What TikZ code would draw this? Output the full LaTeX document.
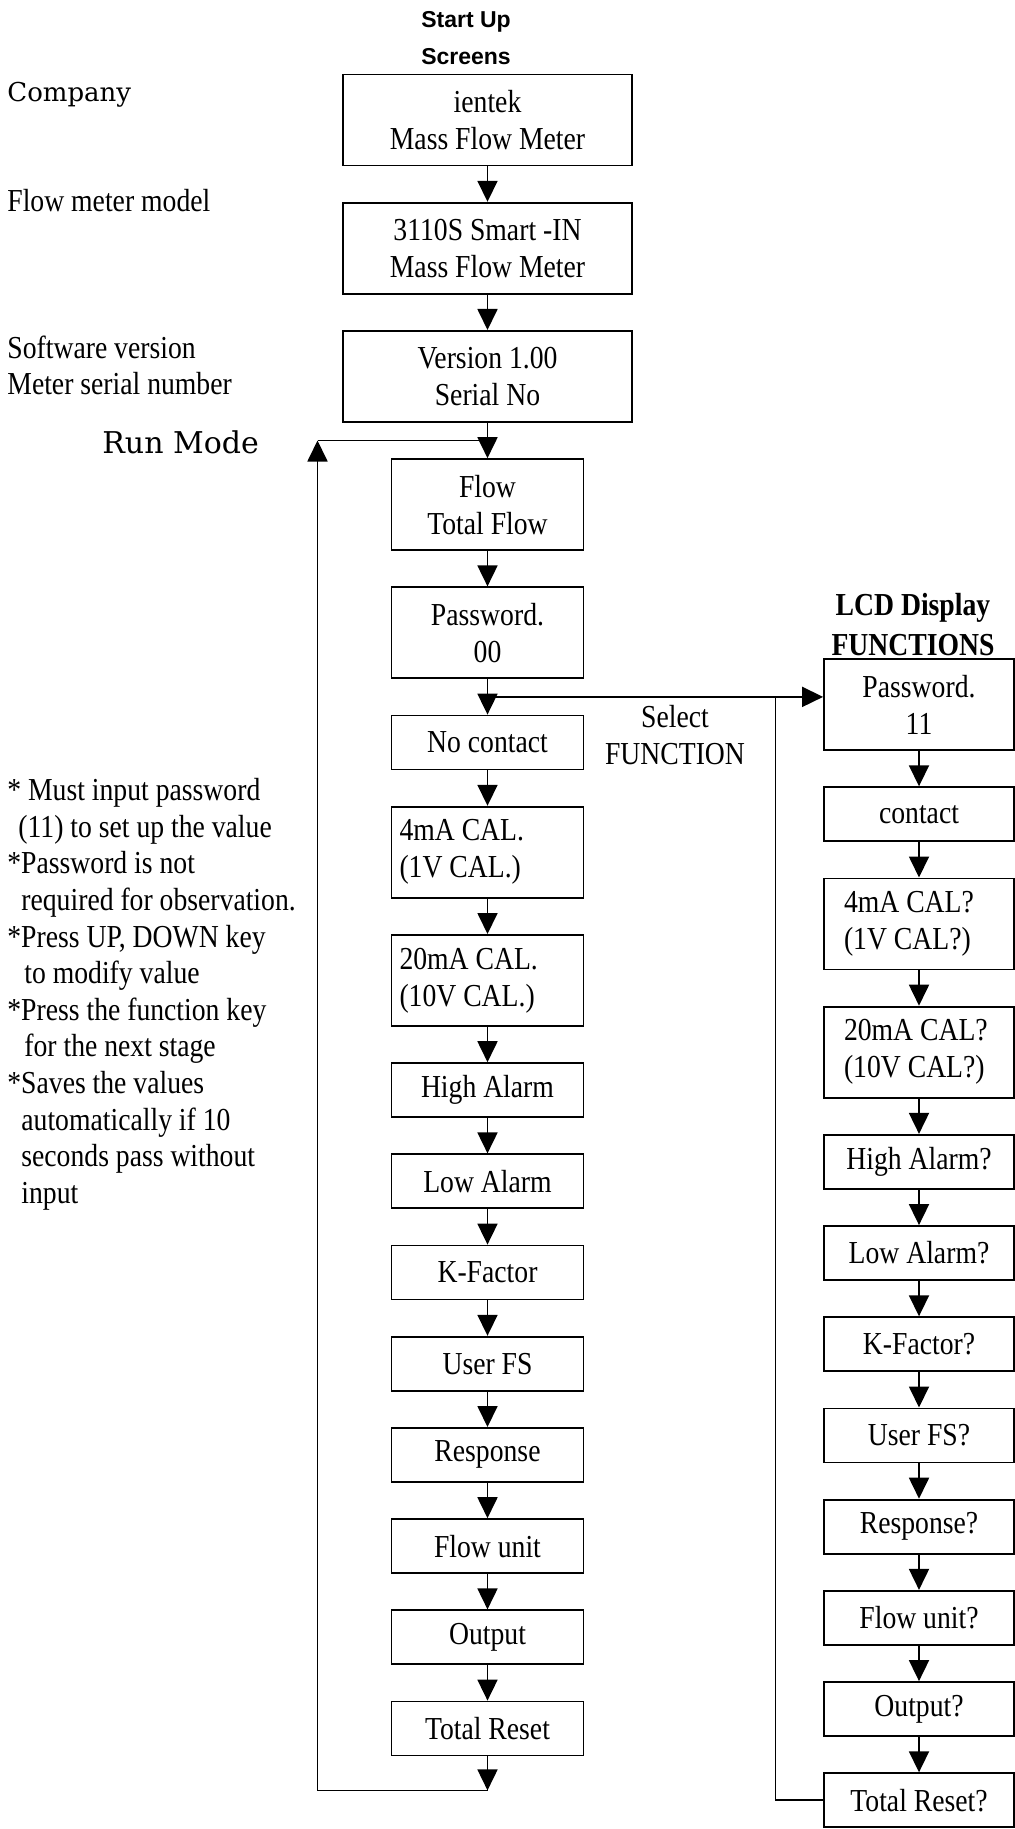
\documentclass[tikz,border=0pt]{standalone}
\usepackage{fontspec}
\setmainfont{Liberation Serif}[FakeStretch=0.865]
\newfontfamily\headfont{Liberation Sans}
\newfontfamily\sidefont{DejaVu Serif}
\usepackage{tikz}
\usetikzlibrary{positioning, arrows.meta, calc}

\newcommand{\boxfont}{\fontsize{16pt}{18.5pt}\selectfont}

\begin{document}
\begin{tikzpicture}[
    x=0.5pt, y=-0.5pt,
    node distance=17.7pt,
    block/.style={rectangle, draw=black, line width=0.9pt, fill=white, minimum width=96pt, minimum height=27pt, inner sep=3pt, align=center, font=\boxfont},
    tall/.style={block, minimum height=45.5pt},
    wide/.style={tall, minimum width=144.5pt},
    mcal/.style={tall, align=flush left, inner xsep=4pt, text width=88pt},
    rblock/.style={block, minimum width=95pt},
    rtall/.style={rblock, minimum height=45.5pt},
    rcal/.style={rtall, align=flush left, inner xsep=10pt, text width=75pt},
    sidetext/.style={inner sep=0pt, anchor=base west, font=\boxfont},
    arrow/.style={-{Triangle[width=10pt,length=10.5pt]}, line width=0.9pt},
    line/.style={line width=0.9pt}
]
\useasboundingbox (0,0) rectangle (1015,1829);

% Start up screens
\node[font={\headfont\bfseries\fontsize{11.5pt}{18.5pt}\selectfont}, align=center, anchor=north, inner sep=0pt] (starttitle) at (466,11) {Start Up\\Screens};
\node[wide] (maker) at (487.5,120) {ientek\\Mass Flow Meter};
\node[wide, below=of maker] (model) {3110S Smart -IN\\Mass Flow Meter};
\node[wide, below=of model] (version) {Version 1.00\\Serial No};

\draw[arrow] (maker) -- (model);
\draw[arrow] (model) -- (version);

% Labels on the left
\node[sidetext, font={\sidefont\fontsize{13pt}{15pt}\selectfont}] (companytxt) at (7,102) {Company};
\node[sidetext] (modeltxt) at (7,212) {Flow meter model};
\node[sidetext] (swtxt) at (7,358) {Software version};
\node[sidetext] (serialtxt) at (7,394) {Meter serial number};
\node[sidetext, font={\sidefont\fontsize{15pt}{18pt}\selectfont}] (runmode) at (102,453) {Run Mode};

% Run mode column
\node[tall, below=of version] (flow) {Flow\\Total Flow};
\node[tall, below=of flow] (pwd) {Password.\\00};
\node[block, below=of pwd] (nocontact) {No contact};
\node[mcal, below=of nocontact] (cal4) {4mA CAL.\\(1V CAL.)};
\node[mcal, below=of cal4] (cal20) {20mA CAL.\\(10V CAL.)};
\node[block, below=of cal20] (hialarm) {High Alarm};
\node[block, below=of hialarm] (loalarm) {Low Alarm};
\node[block, below=of loalarm] (kfactor) {K-Factor};
\node[block, below=of kfactor] (userfs) {User FS};
\node[block, below=of userfs] (response) {Response};
\node[block, below=of response] (flowunit) {Flow unit};
\node[block, below=of flowunit] (output) {Output};
\node[block, below=of output] (treset) {Total Reset};

\draw[arrow] (version) -- (flow);
\draw[arrow] (flow) -- (pwd);
\draw[arrow] (pwd) -- (nocontact);
\draw[arrow] (nocontact) -- (cal4);
\draw[arrow] (cal4) -- (cal20);
\draw[arrow] (cal20) -- (hialarm);
\draw[arrow] (hialarm) -- (loalarm);
\draw[arrow] (loalarm) -- (kfactor);
\draw[arrow] (kfactor) -- (userfs);
\draw[arrow] (userfs) -- (response);
\draw[arrow] (response) -- (flowunit);
\draw[arrow] (flowunit) -- (output);
\draw[arrow] (output) -- (treset);

% Loop back to run mode
\coordinate (runjoin) at ($(version.south)!0.5!(flow.north)$);
\coordinate (looptop) at ($(runjoin)+(-170,0)$);
\coordinate (loopbot) at ($(treset.south)+(0,34)$);
\draw[arrow] (treset) -- (loopbot);
\draw[arrow] (loopbot) -| (looptop);
\draw[line] (looptop) -- (runjoin);

% Notes
\node[anchor=north west, align=left, inner sep=0pt, font={\fontsize{16pt}{18.3pt}\selectfont}] (notes) at (7,778) {* Must input password\\
\hspace*{5.5pt}(11) to set up the value\\
*Password is not\\
\hspace*{7pt}required for observation.\\
*Press UP, DOWN key\\
\hspace*{8.5pt}to modify value\\
*Press the function key\\
\hspace*{8.5pt}for the next stage\\
*Saves the values\\
\hspace*{7pt}automatically if 10\\
\hspace*{7pt}seconds pass without\\
\hspace*{7pt}input};

% LCD display functions
\node[font={\bfseries\fontsize{16pt}{20pt}\selectfont}, align=center, anchor=north, inner sep=0pt] (lcdtitle) at (913,593) {LCD Display\\FUNCTIONS};
\node[rtall] (rpwd) at (919,704.5) {Password.\\11};
\node[rblock, below=of rpwd] (rcontact) {contact};
\node[rcal, below=of rcontact] (rcal4) {4mA CAL?\\(1V CAL?)};
\node[rcal, below=of rcal4] (rcal20) {20mA CAL?\\(10V CAL?)};
\node[rblock, below=of rcal20] (rhialarm) {High Alarm?};
\node[rblock, below=of rhialarm] (rloalarm) {Low Alarm?};
\node[rblock, below=of rloalarm] (rkfactor) {K-Factor?};
\node[rblock, below=of rkfactor] (ruserfs) {User FS?};
\node[rblock, below=of ruserfs] (rresponse) {Response?};
\node[rblock, below=of rresponse] (rflowunit) {Flow unit?};
\node[rblock, below=of rflowunit] (routput) {Output?};
\node[rblock, below=of routput] (rtreset) {Total Reset?};

\draw[arrow] (rpwd) -- (rcontact);
\draw[arrow] (rcontact) -- (rcal4);
\draw[arrow] (rcal4) -- (rcal20);
\draw[arrow] (rcal20) -- (rhialarm);
\draw[arrow] (rhialarm) -- (rloalarm);
\draw[arrow] (rloalarm) -- (rkfactor);
\draw[arrow] (rkfactor) -- (ruserfs);
\draw[arrow] (ruserfs) -- (rresponse);
\draw[arrow] (rresponse) -- (rflowunit);
\draw[arrow] (rflowunit) -- (routput);
\draw[arrow] (routput) -- (rtreset);

% Branch into the function menu and back
\coordinate (branch) at ($(pwd.south)!0.5!(nocontact.north)$);
\coordinate (rjoin) at ($(branch)+(288,0)$);
\draw[arrow] (branch) -- (branch -| rpwd.west);
\draw[line] (rtreset.west) -| (rjoin);
\node[anchor=north, align=center, inner sep=0pt, font=\boxfont] (select) at (675,705) {Select\\FUNCTION};

\end{tikzpicture}
\end{document}
